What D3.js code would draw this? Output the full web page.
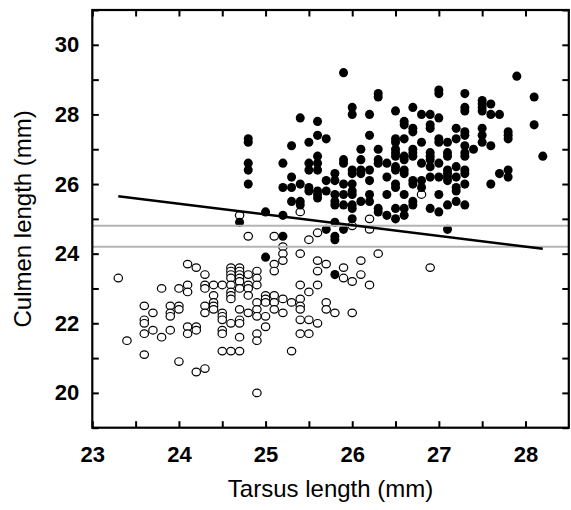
<!DOCTYPE html>
<html>
<head>
<meta charset="utf-8">
<script src="https://cdn.jsdelivr.net/npm/d3@7"></script>
<style>
  body { margin: 0; background: #fff; }
  svg { display: block; }
  .tick text { font-family: "Liberation Sans", Arial, sans-serif; font-weight: bold; font-size: 22px; fill: #000; }
  .title { font-family: "Liberation Sans", Arial, sans-serif; font-size: 24px; fill: #000; }
</style>
</head>
<body>
<div class="chart"></div>
<script>
// tarsus column -> culmen values, black (filled) birds
const filledCols = [
  [24.7, [24.9]],
  [24.8, [27.3, 27.2, 26.6, 26.4, 26.0]],
  [25.0, [25.2, 23.9]],
  [25.2, [26.6, 25.9, 25.1, 24.5]],
  [25.3, [27.1, 26.2, 25.9, 25.5]],
  [25.4, [27.9, 26.0, 25.5, 25.4]],
  [25.5, [27.2, 26.6, 26.4, 25.9, 25.8]],
  [25.6, [27.8, 27.4, 26.8, 26.6, 26.4, 25.8, 25.7, 25.6]],
  [25.7, [27.3, 26.1, 25.8, 24.7]],
  [25.8, [26.3, 26.1, 25.7, 25.5, 25.4, 24.9, 24.5, 24.4, 23.4]],
  [25.9, [29.2, 26.7, 26.6, 26.0, 25.7, 25.4, 24.7]],
  [26.0, [28.2, 28.0, 26.4, 26.3, 26.0, 25.8, 25.7, 25.4, 25.3, 25.0]],
  [26.1, [27.0, 26.7, 26.4, 26.3, 25.5]],
  [26.2, [28.0, 27.4, 26.4, 26.1, 25.7, 25.5]],
  [26.3, [28.6, 28.5, 27.0, 26.7, 26.6, 25.3, 25.2]],
  [26.4, [26.6, 26.2, 25.7, 25.1]],
  [26.5, [28.1, 27.3, 27.2, 27.0, 26.9, 26.8, 26.5, 26.4, 26.0, 25.9, 25.3, 25.0]],
  [26.6, [27.8, 27.7, 27.3, 26.8, 26.7, 26.4, 26.3, 25.7, 25.3, 25.1]],
  [26.7, [28.2, 27.6, 27.5, 27.0, 26.9, 26.8, 26.1, 26.0, 25.5, 25.4]],
  [26.8, [28.0, 27.2, 26.6, 26.1, 25.9]],
  [26.9, [28.0, 27.7, 27.6, 26.9, 26.8, 26.7, 26.5, 26.2, 25.3]],
  [27.0, [28.7, 28.6, 27.9, 27.3, 27.2, 26.6, 26.2, 25.7, 25.2]],
  [27.1, [27.2, 26.9, 26.8, 26.4, 26.3, 26.2, 26.1, 25.4, 24.7]],
  [27.2, [27.6, 27.3, 26.5, 26.2, 25.9, 25.8, 25.5]],
  [27.3, [28.6, 28.2, 28.1, 27.5, 27.4, 27.1, 26.9, 26.8, 26.4, 26.3, 26.0, 25.4]],
  [27.4, [27.0]],
  [27.5, [28.4, 28.3, 28.2, 28.1, 27.6, 27.4, 27.2]],
  [27.6, [28.3, 28.0, 27.1, 26.0]],
  [27.7, [28.0, 26.3]],
  [27.8, [27.5, 27.4, 27.3, 26.4, 26.2]],
  [27.9, [29.1]],
  [28.1, [28.5, 27.7]],
  [28.2, [26.8]]
];

// tarsus column -> culmen values, white (open) birds
const openCols = [
  [23.3, [23.3]],
  [23.4, [21.5]],
  [23.6, [22.5, 22.1, 22.0, 21.7, 21.1]],
  [23.7, [22.3, 21.8]],
  [23.8, [23.0, 21.6]],
  [23.9, [22.5, 22.3, 22.2, 21.8]],
  [24.0, [23.0, 22.5, 22.4, 20.9]],
  [24.1, [23.7, 23.1, 22.9, 21.9, 21.7]],
  [24.2, [23.6, 21.9, 21.8, 20.6]],
  [24.3, [23.4, 23.1, 23.0, 22.5, 22.3, 20.7]],
  [24.4, [23.1, 22.8, 22.6, 22.5, 22.4]],
  [24.5, [23.1, 22.3, 22.2, 22.1, 21.8, 21.7, 21.2]],
  [24.6, [23.6, 23.5, 23.4, 23.3, 23.1, 22.9, 22.8, 22.7, 22.0, 21.2]],
  [24.7, [25.1, 23.6, 23.5, 23.4, 23.3, 23.2, 23.0, 22.4, 22.1, 22.0, 21.6, 21.2]],
  [24.8, [24.5, 23.4, 23.1, 23.0, 22.8, 22.3]],
  [24.9, [23.5, 23.3, 23.1, 22.6, 22.4, 22.2, 21.7, 21.5, 20.0]],
  [25.0, [22.8, 22.7, 22.6, 22.2, 21.9]],
  [25.1, [24.5, 23.7, 23.5, 22.8, 22.6, 22.4]],
  [25.2, [24.2, 24.0, 23.8, 22.7, 22.3]],
  [25.3, [22.6, 21.2]],
  [25.4, [25.2, 24.0, 23.1, 22.7, 22.5, 22.4, 22.1, 21.7]],
  [25.5, [24.4, 22.9, 22.1, 21.7]],
  [25.6, [24.6, 23.8, 23.5, 23.1, 22.0]],
  [25.7, [23.7, 22.6, 22.4]],
  [25.8, [22.3]],
  [25.9, [23.6, 23.3]],
  [26.0, [24.8, 23.2, 22.3]],
  [26.1, [23.8, 23.4]],
  [26.2, [25.0, 24.7, 23.1]],
  [26.3, [24.0]],
  [26.8, [25.7]],
  [26.9, [23.6]]
];

const fitLine = [[23.3, 25.65], [28.2, 24.14]];
const grayLevels = [24.8, 24.2];
const xTicks = d3.range(23, 28.01, 0.5);
const yTicks = d3.range(19, 31.01, 1);

const W = 571, H = 510;
const plot = { left: 92.3, right: 568.8, top: 10, bottom: 427.7 };

const svg = d3.select(".chart").append("svg")
  .attr("width", W).attr("height", H);

const x = d3.scaleLinear().domain([23, 28.5]).range([plot.left, plot.right]);
const y = d3.scaleLinear().domain([19, 31]).range([plot.bottom, plot.top]);

const flat = cols => cols.flatMap(([t, cs]) => cs.map(c => ({ t, c })));

// points
svg.append("g").selectAll("ellipse.open")
  .data(flat(openCols)).enter().append("ellipse")
  .attr("cx", d => x(d.t)).attr("cy", d => y(d.c))
  .attr("rx", 4.2).attr("ry", 3.8)
  .attr("fill", "#fff").attr("stroke", "#000").attr("stroke-width", 1.2);

svg.append("g").selectAll("ellipse.filled")
  .data(flat(filledCols)).enter().append("ellipse")
  .attr("cx", d => x(d.t)).attr("cy", d => y(d.c))
  .attr("rx", 4.5).attr("ry", 4.6)
  .attr("fill", "#000");

// reference lines
svg.append("g").selectAll("line")
  .data(grayLevels).enter().append("line")
  .attr("x1", plot.left).attr("x2", plot.right)
  .attr("y1", d => y(d)).attr("y2", d => y(d))
  .attr("stroke", "#b4b4b4").attr("stroke-width", 2);

svg.append("path")
  .attr("d", d3.line().x(d => x(d[0])).y(d => y(d[1]))(fitLine))
  .attr("fill", "none").attr("stroke", "#000").attr("stroke-width", 2.4);

// axes (ticks point inward)
const fmt = d => Number.isInteger(d) ? d : "";
const yfmt = d => (d % 2 === 0 && d >= 20 && d <= 30) ? d : "";

svg.append("g").attr("transform", `translate(0,${plot.bottom})`)
  .call(d3.axisBottom(x).tickValues(xTicks).tickFormat(fmt).tickSizeInner(-6.5).tickSizeOuter(0).tickPadding(19));
svg.append("g").attr("transform", `translate(0,${plot.top})`)
  .call(d3.axisTop(x).tickValues(xTicks).tickFormat("").tickSizeInner(-6.5).tickSizeOuter(0));
svg.append("g").attr("transform", `translate(${plot.left},0)`)
  .call(d3.axisLeft(y).tickValues(yTicks).tickFormat(yfmt).tickSizeInner(-6.5).tickSizeOuter(0).tickPadding(13));
svg.append("g").attr("transform", `translate(${plot.right},0)`)
  .call(d3.axisRight(y).tickValues(yTicks).tickFormat("").tickSizeInner(-6.5).tickSizeOuter(0));

svg.selectAll(".domain").remove();
svg.selectAll(".tick line").attr("stroke", "#000").attr("stroke-width", 2);

svg.append("rect")
  .attr("x", plot.left).attr("y", plot.top)
  .attr("width", plot.right - plot.left).attr("height", plot.bottom - plot.top)
  .attr("fill", "none").attr("stroke", "#000").attr("stroke-width", 2.2);

// titles
svg.append("text").attr("class", "title")
  .attr("x", (plot.left + plot.right) / 2).attr("y", 497)
  .attr("text-anchor", "middle").text("Tarsus length (mm)");
svg.append("text").attr("class", "title")
  .attr("transform", `translate(31,${(plot.top + plot.bottom) / 2}) rotate(-90)`)
  .attr("text-anchor", "middle").text("Culmen length (mm)");
</script>
</body>
</html>
